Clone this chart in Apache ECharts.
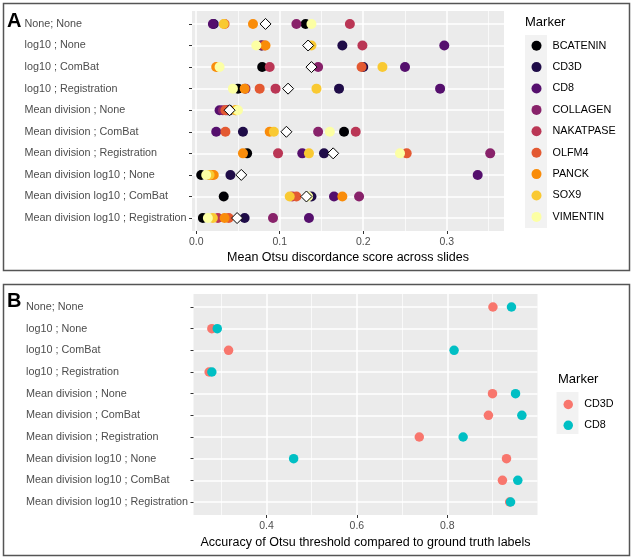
<!DOCTYPE html>
<html><head><meta charset="utf-8">
<script src="https://cdn.jsdelivr.net/npm/echarts@6/dist/echarts.min.js"></script>
<style>html,body{margin:0;padding:0;background:#fff}#c{width:633px;height:560px}</style>
</head><body><div id="c"></div>
<script>
// ---- data ----
const rows = ['None; None','log10 ; None','log10 ; ComBat','log10 ; Registration','Mean division ; None','Mean division ; ComBat','Mean division ; Registration','Mean division log10 ; None','Mean division log10 ; ComBat','Mean division log10 ; Registration'];
const markersA = ['BCATENIN','CD3D','CD8','COLLAGEN','NAKATPASE','OLFM4','PANCK','SOX9','VIMENTIN'];
const colorsA = ['#000004','#1F0C48','#550F6D','#88226A','#BA3655','#E35932','#F98C0A','#F9C932','#FCFFA4'];
const bcatenin  = [0.131,0.078,0.079,0.050,0.040,0.177,0.061,0.006,0.033,0.008];
const cd3d      = [0.021,0.175,0.200,0.171,0.038,0.056,0.153,0.041,0.138,0.058];
const cd8       = [0.020,0.297,0.250,0.292,0.028,0.024,0.127,0.337,0.165,0.135];
const collagen  = [0.120,0.079,0.146,0.059,0.032,0.146,0.352,0.014,0.195,0.092];
const nakatpase = [0.184,0.199,0.088,0.095,0.036,0.191,0.098,0.016,0.115,0.026];
const olfm4     = [0.034,0.082,0.198,0.076,0.035,0.035,0.252,0.019,0.120,0.039];
const panck     = [0.068,0.083,0.024,0.058,0.047,0.088,0.056,0.021,0.175,0.034];
const sox9      = [0.033,0.138,0.223,0.144,0.048,0.093,0.135,0.016,0.112,0.020];
const vimentin  = [0.138,0.072,0.028,0.044,0.050,0.160,0.244,0.012,0.134,0.014];
const meanScore = [0.083,0.134,0.138,0.110,0.040,0.108,0.164,0.054,0.132,0.049];
const markersB = ['CD3D','CD8'];
const colorsB = ['#F8766D','#00BFC4'];
const cd3dAcc = [0.901,0.279,0.316,0.273,0.900,0.891,0.738,0.931,0.922,0.938];
const cd8Acc  = [0.942,0.291,0.815,0.279,0.951,0.965,0.835,0.460,0.956,0.940];
const ticksA = [0, 0.1, 0.2, 0.3];
const ticksB = [0.4, 0.6, 0.8];
const titleA = 'Mean Otsu discordance score across slides';
const titleB = 'Accuracy of Otsu threshold compared to ground truth labels';

// ---- chart ----
const FONT = '"Liberation Sans", Arial, Helvetica, sans-serif';
const valuesA = [bcatenin, cd3d, cd8, collagen, nakatpase, olfm4, panck, sox9, vimentin];
const valuesB = [cd3dAcc, cd8Acc];
const rowIdx = rows.map((_, i) => i);
const pts = vals => vals.map((v, i) => [v, i]);

function xAxisCfg(grid, min, max, ticks, name, gap) {
  return {
    gridIndex: grid, type: 'value', min: min, max: max, position: 'bottom',
    axisLine: {show: false, onZero: false},
    axisTick: {show: true, length: 3, customValues: ticks, lineStyle: {color: '#333', width: 1}},
    axisLabel: {customValues: ticks, formatter: v => v.toFixed(1), color: '#4D4D4D', fontSize: 10.5, fontFamily: FONT, margin: 6},
    splitLine: {show: true, lineStyle: {color: '#FFFFFF', width: 1.5}},
    minorTick: {show: false, splitNumber: 2},
    minorSplitLine: {show: true, lineStyle: {color: '#FFFFFF', width: 0.7}},
    name: name, nameLocation: 'middle', nameGap: gap,
    nameTextStyle: {color: '#000', fontSize: 12.5, fontFamily: FONT}
  };
}
function yAxisCfg(grid) {
  return {
    gridIndex: grid, type: 'value', inverse: true, min: -0.6, max: 9.6, position: 'left',
    axisLine: {show: false, onZero: false},
    axisTick: {show: true, length: 3, customValues: rowIdx, lineStyle: {color: '#333', width: 1}},
    axisLabel: {customValues: rowIdx, formatter: v => rows[Math.round(v)], align: 'left', margin: 167.5,
      color: '#4D4D4D', fontSize: 10.8, fontFamily: FONT},
    splitLine: {show: true, lineStyle: {color: '#FFFFFF', width: 1.5}}
  };
}

const series = [];
markersA.forEach((m, k) => series.push({
  name: m, type: 'scatter', xAxisIndex: 0, yAxisIndex: 0, data: pts(valuesA[k]),
  symbol: 'circle', symbolSize: 10, silent: true,
  itemStyle: {color: colorsA[k], opacity: 1}, emphasis: {disabled: true}
}));
series.push({
  name: 'mean', type: 'scatter', xAxisIndex: 0, yAxisIndex: 0, data: pts(meanScore),
  symbol: 'diamond', symbolSize: 11, silent: true,
  itemStyle: {color: '#FFFFFF', borderColor: '#000', borderWidth: 1, opacity: 1}, emphasis: {disabled: true}
});
markersB.forEach((m, k) => series.push({
  name: m + ' ', type: 'scatter', xAxisIndex: 1, yAxisIndex: 1, data: pts(valuesB[k]),
  symbol: 'circle', symbolSize: 9.5, silent: true,
  itemStyle: {color: colorsB[k], opacity: 1}, emphasis: {disabled: true}
}));

const chart = echarts.init(document.getElementById('c'));
chart.setOption({
  animation: false,
  backgroundColor: '#FFFFFF',
  textStyle: {fontFamily: FONT},
  grid: [
    {left: 192, top: 11, width: 312, height: 220, show: true, backgroundColor: '#EBEBEB', borderWidth: 0, containLabel: false},
    {left: 193.5, top: 294, width: 344, height: 221, show: true, backgroundColor: '#EBEBEB', borderWidth: 0, containLabel: false}
  ],
  xAxis: [
    xAxisCfg(0, -0.005, 0.3685, ticksA, titleA, 20.5),
    xAxisCfg(1, 0.2384, 0.9996, ticksB, titleB, 21.5)
  ],
  yAxis: [yAxisCfg(0), yAxisCfg(1)],
  title: [
    {text: 'Marker', left: 525, top: 16, padding: 0, textStyle: {fontSize: 13, fontWeight: 'normal', color: '#000', fontFamily: FONT}},
    {text: 'Marker', left: 558, top: 373, padding: 0, textStyle: {fontSize: 13, fontWeight: 'normal', color: '#000', fontFamily: FONT}}
  ],
  legend: [
    {data: markersA, orient: 'vertical', left: 531.5, top: 40.2, padding: 0, icon: 'circle',
     itemWidth: 22, itemHeight: 10, itemGap: 10.4, selectedMode: false,
     textStyle: {fontSize: 10.8, color: '#000', fontFamily: FONT}, z: 10},
    {data: markersB.map(m => m + ' '), orient: 'vertical', left: 563.5, top: 399, padding: 0, icon: 'circle',
     itemWidth: 22, itemHeight: 9.5, itemGap: 9.8, selectedMode: false,
     formatter: n => n.trim(),
     textStyle: {fontSize: 10.8, color: '#000', fontFamily: FONT}, z: 10}
  ],
  graphic: [
    {type: 'rect', z: 0, shape: {x: 3.5, y: 3.5, width: 626, height: 267}, style: {fill: 'none', stroke: '#555', lineWidth: 1.5}},
    {type: 'rect', z: 0, shape: {x: 3.5, y: 284.5, width: 626, height: 271}, style: {fill: 'none', stroke: '#555', lineWidth: 1.5}},
    {type: 'rect', z: 1, shape: {x: 525, y: 35, width: 22, height: 193}, style: {fill: '#F2F2F2'}},
    {type: 'rect', z: 1, shape: {x: 556.5, y: 392, width: 22, height: 42}, style: {fill: '#F2F2F2'}},
    {type: 'text', z: 5, left: 7, top: 11, style: {text: 'A', fill: '#000', font: 'bold 20px ' + FONT}},
    {type: 'text', z: 5, left: 7, top: 291, style: {text: 'B', fill: '#000', font: 'bold 20px ' + FONT}}
  ],
  series: series
});
</script></body></html>
